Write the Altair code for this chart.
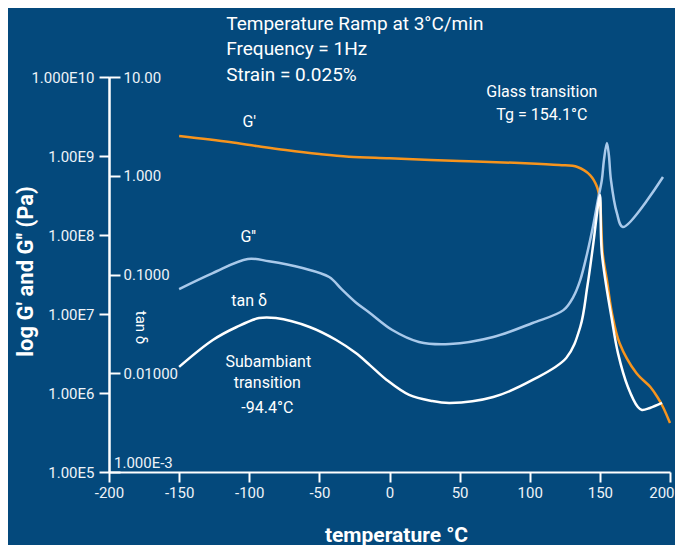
import altair as alt
import pandas as pd

# ---------------- data ----------------
# Storage modulus G' (Pa)
T_gp = [-150, -114, -95, -74, -50, -29, 0, 50, 93, 121, 134, 143, 148, 150, 152, 155, 158.6, 164, 176, 186, 191, 195, 200]
G_prime = [1.79e9, 1.50e9, 1.34e9, 1.19e9, 1.06e9, 9.8e8, 9.35e8, 8.65e8, 8.15e8, 7.69e8, 7.26e8, 5.74e8, 4.06e8,
           2.77e8, 5.9e7, 2.69e7, 1.03e7, 4.3e6, 1.79e6, 1.19e6, 8.9e5, 6.65e5, 4.17e5]

# Loss modulus G'' (Pa)
T_gpp = [-150, -126, -101, -86, -62, -43, -34, -24, -14, 2, 21, 43, 74, 102, 124, 131, 136, 141, 145, 148.6,
         151.4, 152.9, 155, 156.4, 157.9, 162.1, 166.4, 195]
G_dprime = [2.07e7, 3.30e7, 4.97e7, 4.65e7, 3.82e7, 2.94e7, 2.05e7, 1.40e7, 1.03e7, 6.27e6, 4.43e6, 4.17e6, 5.12e6,
            7.69e6, 1.12e7, 1.64e7, 2.69e7, 5.92e7, 1.26e8, 2.77e8, 4.97e8, 8.9e8, 1.46e9, 1.03e9, 4.97e8, 1.90e8,
            1.26e8, 5.42e8]

# tan delta
T_tan = [-150, -126, -109, -93, -81, -57, -38, -24, -14, -2, 14, 30, 43, 74, 102, 126, 136, 141, 145, 148, 150,
         151.4, 158.6, 162.9, 170, 177.1, 180, 185.7, 194.3]
tan_delta = [0.0116, 0.0217, 0.0294, 0.0362, 0.0362, 0.0294, 0.0217, 0.0160, 0.0121, 0.00855, 0.00603, 0.00524,
             0.00500, 0.00574, 0.00855, 0.01426, 0.0294, 0.0746, 0.190, 0.420, 0.638, 0.165, 0.0346, 0.0160,
             0.00726, 0.00455, 0.00425, 0.00445, 0.00500]

x_ticks = [-200, -150, -100, -50, 0, 50, 100, 150, 200]
g_ticks = [1e5, 1e6, 1e7, 1e8, 1e9, 1e10]
tan_ticks = [1e-3, 1e-2, 1e-1, 1, 10]

# annotations (text, temperature, G-scale position)
info_text = ["Temperature Ramp at 3°C/min", "Frequency = 1Hz", "Strain = 0.025%"]
info_T = [-116.4, -116.4, -116.4]
info_G = [3.94e10, 1.90e10, 8.9e9]

note_text = ["Glass transition", "Tg = 154.1°C", "G'", "G''", "tan δ", "Subambiant", "transition", "-94.4°C"]
note_T = [108.6, 108.6, -100, -100.7, -100, -86.4, -87.1, -87.1]
note_G = [6.46e9, 3.31e9, 2.69e9, 9.44e7, 1.46e7, 2.47e6, 1.34e6, 6.46e5]

BG = "#04497C"
W, H = 561, 395

x_scale = alt.Scale(domain=[-200, 200], nice=False, zero=False)
g_scale = alt.Scale(type="log", domain=[1e5, 1e10], nice=False)
t_scale = alt.Scale(type="log", domain=[1e-3, 10], nice=False)

x_axis = alt.Axis(values=x_ticks, labelExpr="'' + datum.value", title="temperature °C",
                  titleFontWeight="bold", titleFontSize=21, titleX=287, titleY=63,
                  titleAlign="center", titleBaseline="middle", tickSize=10, labelPadding=3,
                  labelAlign={"condition": {"test": "datum.value >= 200", "value": "right"}, "value": "center"},
                  labelOffset={"condition": {"test": "datum.value >= 200", "value": 4}, "value": 0},
                  labelFlush=False, labelOverlap=False, grid=False)

g_axis = alt.Axis(values=g_ticks,
                  labelExpr="datum.value >= 1e10 ? '1.000E10' : '1.00E' + round(log(datum.value)/LN10)",
                  title="log G' and G'' (Pa)", titleFontWeight="bold", titleFontSize=22,
                  titleAngle=270, titleX=-84, titleY=194, titleAlign="center", titleBaseline="middle",
                  tickSize=10, labelPadding=5, labelFlush=False, labelOverlap=False, grid=False)

t_axis = alt.Axis(values=tan_ticks, orient="right", offset=-W,
                  labelExpr="datum.value >= 10 ? '10.00' : datum.value >= 1 ? '1.000' : datum.value >= 0.1 ? '0.1000' : datum.value >= 0.01 ? '0.01000' : ''",
                  title="tan δ", titleFontWeight="normal", titleFontSize=15, titleAngle=90,
                  titleX=31, titleY=250, titleAlign="center", titleBaseline="middle",
                  tickSize=11, labelPadding=3, labelFlush=False, labelOverlap=False, grid=False)

df_gp = pd.DataFrame({"T": T_gp, "G": G_prime})
df_gpp = pd.DataFrame({"T": T_gpp, "G": G_dprime})
df_tan = pd.DataFrame({"T": T_tan, "tan": tan_delta})
df_info = pd.DataFrame({"T": info_T, "G": info_G, "label": info_text})
df_note = pd.DataFrame({"T": note_T, "G": note_G, "label": note_text})
df_e3 = pd.DataFrame({"T": [-200], "G": [1e5], "label": ["1.000E-3"]})

X = alt.X("T:Q", scale=x_scale, axis=x_axis)
YG = alt.Y("G:Q", scale=g_scale, axis=g_axis)

gp_line = alt.Chart(df_gp).mark_line(color="#F7941D", strokeWidth=2.5, interpolate="catmull-rom").encode(x=X, y=YG)
gpp_line = alt.Chart(df_gpp).mark_line(color="#A9C9EA", strokeWidth=2.5, interpolate="catmull-rom").encode(x=X, y=YG)

info = alt.Chart(df_info).mark_text(align="left", baseline="alphabetic", fontSize=19, color="white",
                                    font="Roboto").encode(x=X, y=YG, text="label:N")
notes = alt.Chart(df_note).mark_text(align="center", baseline="middle", fontSize=16, color="white",
                                     font="Roboto").encode(x=X, y=YG, text="label:N")
e3 = alt.Chart(df_e3).mark_text(align="left", baseline="bottom", fontSize=15, color="#EEF3F8",
                                font="Roboto", dx=5, dy=-1).encode(x=X, y=YG, text="label:N")

g_layer = alt.layer(gp_line, gpp_line, info, notes, e3)

tan_line = alt.Chart(df_tan).mark_line(color="white", strokeWidth=2.5, interpolate="catmull-rom").encode(
    x=X, y=alt.Y("tan:Q", scale=t_scale, axis=t_axis))

chart = alt.layer(g_layer, tan_line).resolve_scale(y="independent").resolve_axis(y="independent").properties(
    width=W, height=H,
    background=BG,
    autosize=alt.AutoSizeParams(type="none"),
    padding={"left": 101, "top": 69, "right": 5, "bottom": 73},
).configure_view(stroke=None).configure_axis(
    domainColor="white", domainWidth=2, tickColor="white", tickWidth=2,
    labelColor="#EEF3F8", labelFontSize=15, labelFont="Roboto",
    titleColor="white", titleFont="Roboto",
).configure_text(font="Roboto")

chart.save("out.html", embed_options={"renderer": "svg", "actions": False})
